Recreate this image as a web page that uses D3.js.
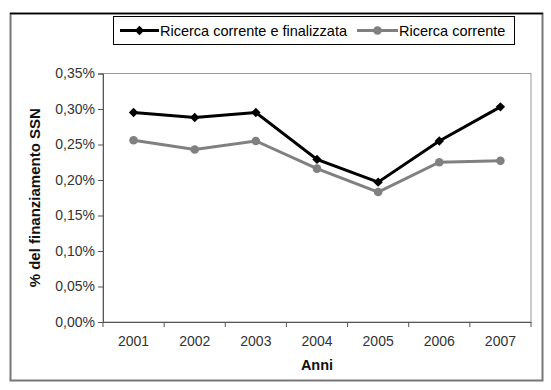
<!DOCTYPE html>
<html><head><meta charset="utf-8">
<script src="https://cdn.jsdelivr.net/npm/d3@7"></script>
<style>
html,body{margin:0;padding:0;background:#fff;}
svg{display:block;font-family:Arial,"Liberation Sans",sans-serif;}
</style></head>
<body>
<svg id="chart" width="551" height="390"></svg>
<script>
const years = ["2001","2002","2003","2004","2005","2006","2007"];
const seriesNames = ["Ricerca corrente e finalizzata","Ricerca corrente"];
const totale = [0.00295,0.00288,0.00295,0.00229,0.00197,0.00255,0.00303];
const corrente = [0.00256,0.00243,0.00255,0.00216,0.00183,0.00225,0.00227];
const yTicks = [0,0.0005,0.001,0.0015,0.002,0.0025,0.003,0.0035];

const svg = d3.select("#chart");
const m = {left:103, top:73.5, right:531, bottom:322};

// outer frame
svg.append("rect").attr("x",10.5).attr("y",13.5).attr("width",532).attr("height",367)
  .attr("fill","#fff").attr("stroke","#777").attr("stroke-width",2);
svg.append("line").attr("x1",10).attr("x2",543).attr("y1",13.5).attr("y2",13.5).attr("stroke","#000").attr("stroke-width",1.5);

const x = d3.scaleBand().domain(years).range([m.left,m.right]).padding(0);
const y = d3.scaleLinear().domain([0,0.0035]).range([m.bottom,m.top]);

// plot area border
svg.append("rect").attr("x",m.left).attr("y",m.top).attr("width",m.right-m.left).attr("height",m.bottom-m.top)
  .attr("fill","none").attr("stroke","#999").attr("stroke-width",1);

const fmt = v => (v*100).toFixed(2).replace(".",",")+"%";

const yAxis = svg.append("g").attr("transform",`translate(${m.left},0)`)
  .call(d3.axisLeft(y).tickValues(yTicks).tickFormat(fmt).tickSize(5).tickPadding(3));
yAxis.select(".domain").attr("stroke","#555");
yAxis.selectAll(".tick line").attr("stroke","#555");
yAxis.selectAll("text").attr("fill","#333").style("font-size","14px");

const xAxis = svg.append("g").attr("transform",`translate(0,${m.bottom})`)
  .call(d3.axisBottom(x).tickSize(0).tickPadding(14));
xAxis.select(".domain").attr("stroke","#555");
xAxis.selectAll("text").attr("fill","#333").style("font-size","14px");
// category boundary ticks
const bounds = years.map(d=>x(d)).concat([m.right]);
svg.append("g").selectAll("line").data(bounds).join("line")
  .attr("x1",d=>d).attr("x2",d=>d).attr("y1",m.bottom).attr("y2",m.bottom+5)
  .attr("stroke","#555");

// titles
svg.append("text").attr("x",(m.left+m.right)/2).attr("y",370).attr("text-anchor","middle")
  .style("font-size","14.5px").style("font-weight","bold").attr("fill","#111").text("Anni");
svg.append("text").attr("transform",`translate(40,${(m.top+m.bottom)/2}) rotate(-90)`)
  .attr("text-anchor","middle").style("font-size","15px").style("font-weight","bold").attr("fill","#111")
  .text("% del finanziamento SSN");

const line = d3.line().x((d,i)=>x(years[i])+x.bandwidth()/2).y(d=>y(d));

// gray series
svg.append("path").datum(corrente).attr("d",line).attr("fill","none").attr("stroke","#808080").attr("stroke-width",3);
svg.append("g").selectAll("circle").data(corrente).join("circle")
  .attr("cx",(d,i)=>x(years[i])+x.bandwidth()/2).attr("cy",d=>y(d)).attr("r",4.3).attr("fill","#808080");

// black series
svg.append("path").datum(totale).attr("d",line).attr("fill","none").attr("stroke","#000").attr("stroke-width",3);
const dia = d3.symbol().type(d3.symbolSquare).size(44);
svg.append("g").selectAll("path").data(totale).join("path")
  .attr("transform",(d,i)=>`translate(${x(years[i])+x.bandwidth()/2},${y(d)}) rotate(45)`).attr("d",dia).attr("fill","#000");

// legend
const lg = svg.append("g");
lg.append("rect").attr("x",113.5).attr("y",16.5).attr("width",401).attr("height",28)
  .attr("fill","#fff").attr("stroke","#000").attr("stroke-width",1);
const items = [
  {name:seriesNames[0], color:"#000", x0:120, x1:159, sym:"d"},
  {name:seriesNames[1], color:"#808080", x0:357, x1:398, sym:"c"}
];
items.forEach(it=>{
  lg.append("line").attr("x1",it.x0).attr("x2",it.x1).attr("y1",30.5).attr("y2",30.5)
    .attr("stroke",it.color).attr("stroke-width",3);
  const cx=(it.x0+it.x1)/2;
  if(it.sym==="d") lg.append("path").attr("transform",`translate(${cx},30.5) rotate(45)`).attr("d",dia).attr("fill",it.color);
  else lg.append("circle").attr("cx",cx).attr("cy",30.5).attr("r",4.3).attr("fill",it.color);
  lg.append("text").attr("x",it.x1+1).attr("y",35.5).style("font-size","14.5px").attr("fill","#000").text(it.name);
});
</script>
</body></html>
